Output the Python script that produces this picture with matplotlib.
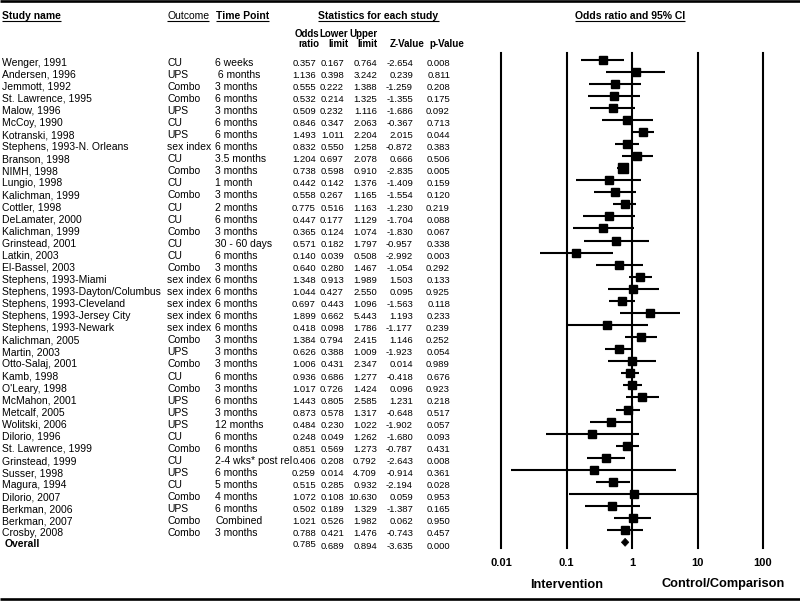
import matplotlib
matplotlib.use("Agg")
import matplotlib.pyplot as plt
from matplotlib import transforms
from matplotlib.patches import Polygon

# ---------------- data ----------------
studies = ["Wenger, 1991", "Andersen, 1996", "Jemmott, 1992", "St. Lawrence, 1995", "Malow, 1996",
           "McCoy, 1990", "Kotranski, 1998", "Stephens, 1993-N. Orleans", "Branson, 1998", "NIMH, 1998",
           "Lungio, 1998", "Kalichman, 1999", "Cottler, 1998", "DeLamater, 2000", "Kalichman, 1999",
           "Grinstead, 2001", "Latkin, 2003", "El-Bassel, 2003", "Stephens, 1993-Miami",
           "Stephens, 1993-Dayton/Columbus", "Stephens, 1993-Cleveland", "Stephens, 1993-Jersey City",
           "Stephens, 1993-Newark", "Kalichman, 2005", "Martin, 2003", "Otto-Salaj, 2001", "Kamb, 1998",
           "O'Leary, 1998", "McMahon, 2001", "Metcalf, 2005", "Wolitski, 2006", "Dilorio, 1996",
           "St. Lawrence, 1999", "Grinstead, 1999", "Susser, 1998", "Magura, 1994", "Dilorio, 2007",
           "Berkman, 2006", "Berkman, 2007", "Crosby, 2008"]
outcomes = ["CU", "UPS", "Combo", "Combo", "UPS", "CU", "UPS", "sex index", "CU", "Combo",
            "CU", "Combo", "CU", "CU", "Combo", "CU", "CU", "Combo", "sex index", "sex index",
            "sex index", "sex index", "sex index", "Combo", "UPS", "Combo", "CU", "Combo", "UPS", "UPS",
            "UPS", "CU", "Combo", "CU", "UPS", "CU", "Combo", "UPS", "Combo", "Combo"]
timepoints = ["6 weeks", " 6 months", "3 months", "6 months", "3 months", "6 months", "6 months",
              "6 months", "3.5 months", "3 months", "1 month", "3 months", "2 months", "6 months",
              "3 months", "30 - 60 days", "6 months", "3 months", "6 months", "6 months", "6 months",
              "6 months", "6 months", "3 months", "3 months", "3 months", "6 months", "3 months",
              "6 months", "3 months", "12 months", "6 months", "6 months", "2-4 wks* post rel",
              "6 months", "5 months", "4 months", "6 months", "Combined", "3 months"]
odds = [0.357, 1.136, 0.555, 0.532, 0.509, 0.846, 1.493, 0.832, 1.204, 0.738,
        0.442, 0.558, 0.775, 0.447, 0.365, 0.571, 0.140, 0.640, 1.348, 1.044,
        0.697, 1.899, 0.418, 1.384, 0.626, 1.006, 0.936, 1.017, 1.443, 0.873,
        0.484, 0.248, 0.851, 0.406, 0.259, 0.515, 1.072, 0.502, 1.021, 0.788]
lower = [0.167, 0.398, 0.222, 0.214, 0.232, 0.347, 1.011, 0.550, 0.697, 0.598,
         0.142, 0.267, 0.516, 0.177, 0.124, 0.182, 0.039, 0.280, 0.913, 0.427,
         0.443, 0.662, 0.098, 0.794, 0.388, 0.431, 0.686, 0.726, 0.805, 0.578,
         0.230, 0.049, 0.569, 0.208, 0.014, 0.285, 0.108, 0.189, 0.526, 0.421]
upper = [0.764, 3.242, 1.388, 1.325, 1.116, 2.063, 2.204, 1.258, 2.078, 0.910,
         1.376, 1.165, 1.163, 1.129, 1.074, 1.797, 0.508, 1.467, 1.989, 2.550,
         1.096, 5.443, 1.786, 2.415, 1.009, 2.347, 1.277, 1.424, 2.585, 1.317,
         1.022, 1.262, 1.273, 0.792, 4.709, 0.932, 10.630, 1.329, 1.982, 1.476]
zvals = [-2.654, 0.239, -1.259, -1.355, -1.686, -0.367, 2.015, -0.872, 0.666, -2.835,
         -1.409, -1.554, -1.230, -1.704, -1.830, -0.957, -2.992, -1.054, 1.503, 0.095,
         -1.563, 1.193, -1.177, 1.146, -1.923, 0.014, -0.418, 0.096, 1.231, -0.648,
         -1.902, -1.680, -0.787, -2.643, -0.914, -2.194, 0.059, -1.387, 0.062, -0.743]
pvals = [0.008, 0.811, 0.208, 0.175, 0.092, 0.713, 0.044, 0.383, 0.506, 0.005,
         0.159, 0.120, 0.219, 0.088, 0.067, 0.338, 0.003, 0.292, 0.133, 0.925,
         0.118, 0.233, 0.239, 0.252, 0.054, 0.989, 0.676, 0.923, 0.218, 0.517,
         0.057, 0.093, 0.431, 0.008, 0.361, 0.028, 0.953, 0.165, 0.950, 0.457]
overall_label = "Overall"
overall_or, overall_lo, overall_up, overall_z, overall_p = 0.785, 0.689, 0.894, -3.635, 0.000
axis_ticks = [0.01, 0.1, 1, 10, 100]
axis_ticklabels = ["0.01", "0.1", "1", "10", "100"]
left_label = "Intervention"
right_label = "Control/Comparison"

# marker sizes (pixels)
marker_px = [7.5] * len(studies)
for k, v in {9: 9.5, 26: 8.7, 27: 8.0, 12: 8.0, 6: 8.0, 32: 8.0, 7: 8.0, 29: 8.0}.items():
    marker_px[k] = v

# ---------------- fonts ----------------
plt.rcParams['font.family'] = ['Liberation Sans', 'DejaVu Sans']
num_fs = 6.8

# ---------------- layout ----------------
W, H = 800, 601
fig = plt.figure(figsize=(8, 6.01), dpi=100)
ax0 = fig.add_axes([0, 0, 1, 1])
ax0.set_xlim(0, W)
ax0.set_ylim(H, 0)
ax0.axis('off')

fs = 7.5
pitch = 12.07
text_row0 = 62.0       # cap-centre of first row text (px)
cap_half = 3.7         # half cap-height (px) for body text
marker_row0 = 59.5
top_px, bot_px = 53, 548
left_px, right_px = 501, 763

# borders
ax0.plot([0, W], [1.2, 1.2], color='black', lw=1.9, clip_on=False, solid_capstyle='butt')
ax0.plot([0, W], [598.5, 598.5], color='black', lw=1.9, clip_on=False, solid_capstyle='butt')

# headers
hdr_base = 15 + 3.7
headers = []
headers.append(ax0.text(2, hdr_base, "Study name", fontsize=fs, fontweight='bold', va='baseline', ha='left'))
headers.append(ax0.text(167, hdr_base, "Outcome", fontsize=fs, va='baseline', ha='left'))
headers.append(ax0.text(216, hdr_base, "Time Point", fontsize=fs, fontweight='bold', va='baseline', ha='left'))
headers.append(ax0.text(378.5, hdr_base, "Statistics for each study", fontsize=fs, fontweight='bold', va='baseline', ha='center'))
headers.append(ax0.text(630, hdr_base, "Odds ratio and 95% CI", fontsize=fs, fontweight='bold', va='baseline', ha='center'))

b1, b2 = 33.3 + 3.5, 43.3 + 3.5
for x, s, yb in [(319.5, "Odds", b1), (319.5, "ratio", b2),
                 (348.5, "Lower", b1), (348.5, "limit", b2),
                 (377.5, "Upper", b1), (377.5, "limit", b2),
                 (425, "Z-Value", b2), (464, "p-Value", b2)]:
    ax0.text(x, yb, s, fontsize=7.0, fontweight='bold', va='baseline', ha='right')

# rows of table
col_right = [316, 344, 377, 413, 450]
for i in range(len(studies)):
    yb = text_row0 + pitch * i + cap_half
    ax0.text(1.5, yb, studies[i], fontsize=fs, va='baseline', ha='left')
    ax0.text(167, yb, outcomes[i], fontsize=fs, va='baseline', ha='left')
    ax0.text(215, yb, timepoints[i], fontsize=fs, va='baseline', ha='left')
    vals = [odds[i], lower[i], upper[i], zvals[i], pvals[i]]
    for x, v in zip(col_right, vals):
        ax0.text(x, yb, f"{v:.3f}", fontsize=num_fs, va='baseline', ha='right')

# overall row
yo = 545.7 + cap_half
ax0.text(5, 543.3 + cap_half, overall_label, fontsize=fs, fontweight='bold', va='baseline', ha='left')
ax0.text(col_right[0], 543.3 + cap_half, f"{overall_or:.3f}", fontsize=num_fs, va='baseline', ha='right')
for x, v in zip(col_right[1:], [overall_lo, overall_up, overall_z, overall_p]):
    ax0.text(x, yo, f"{v:.3f}", fontsize=num_fs, va='baseline', ha='right')

# ---------------- forest axes ----------------
n = len(studies)
axf = fig.add_axes([left_px / W, 1 - bot_px / H, (right_px - left_px) / W, (bot_px - top_px) / H])
axf.set_xscale('log')
axf.set_xlim(axis_ticks[0], axis_ticks[-1])
last_marker_px = marker_row0 + pitch * (n - 1)
axf.set_ylim((n - 1) + (bot_px - last_marker_px) / pitch, -(marker_row0 - top_px) / pitch)
axf.axis('off')

for t in axis_ticks:
    axf.axvline(t, color='black', lw=1.5, clip_on=False, zorder=1)

rows = list(range(n))
axf.hlines(rows, lower, upper, color='black', lw=1.5, clip_on=False, zorder=2)
for i in rows:
    axf.plot(odds[i], i, marker='s', ms=marker_px[i] / 1.389, color='black',
             mec='black', zorder=3, clip_on=False)

# overall diamond
yd = n
h = 0.33
diamond = Polygon([(overall_lo, yd), (overall_or, yd - h), (overall_up, yd), (overall_or, yd + h)],
                  closed=True, facecolor='black', edgecolor='black', lw=0.5, zorder=3, clip_on=False)
axf.add_patch(diamond)

# tick labels under the forest
blend = transforms.blended_transform_factory(axf.transData, ax0.transData)
for t, lab in zip(axis_ticks, axis_ticklabels):
    ax0.text(t, 566, lab, transform=blend, fontsize=8, fontweight='bold', ha='center', va='baseline')

ax0.text(567, 587.5, left_label, fontsize=9.2, fontweight='bold', ha='center', va='baseline')
ax0.text(723, 587.5, right_label, fontsize=9.2, fontweight='bold', ha='center', va='baseline')

# underline the headers
fig.canvas.draw()
renderer = fig.canvas.get_renderer()
inv = ax0.transData.inverted()
for t in headers:
    bb = t.get_window_extent(renderer)
    (x0, _), (x1, _) = inv.transform([(bb.x0, bb.y0), (bb.x1, bb.y0)])
    ax0.plot([x0, x1], [21, 21], color='black', lw=0.8, solid_capstyle='butt')

fig.savefig("out.png", dpi=100)
